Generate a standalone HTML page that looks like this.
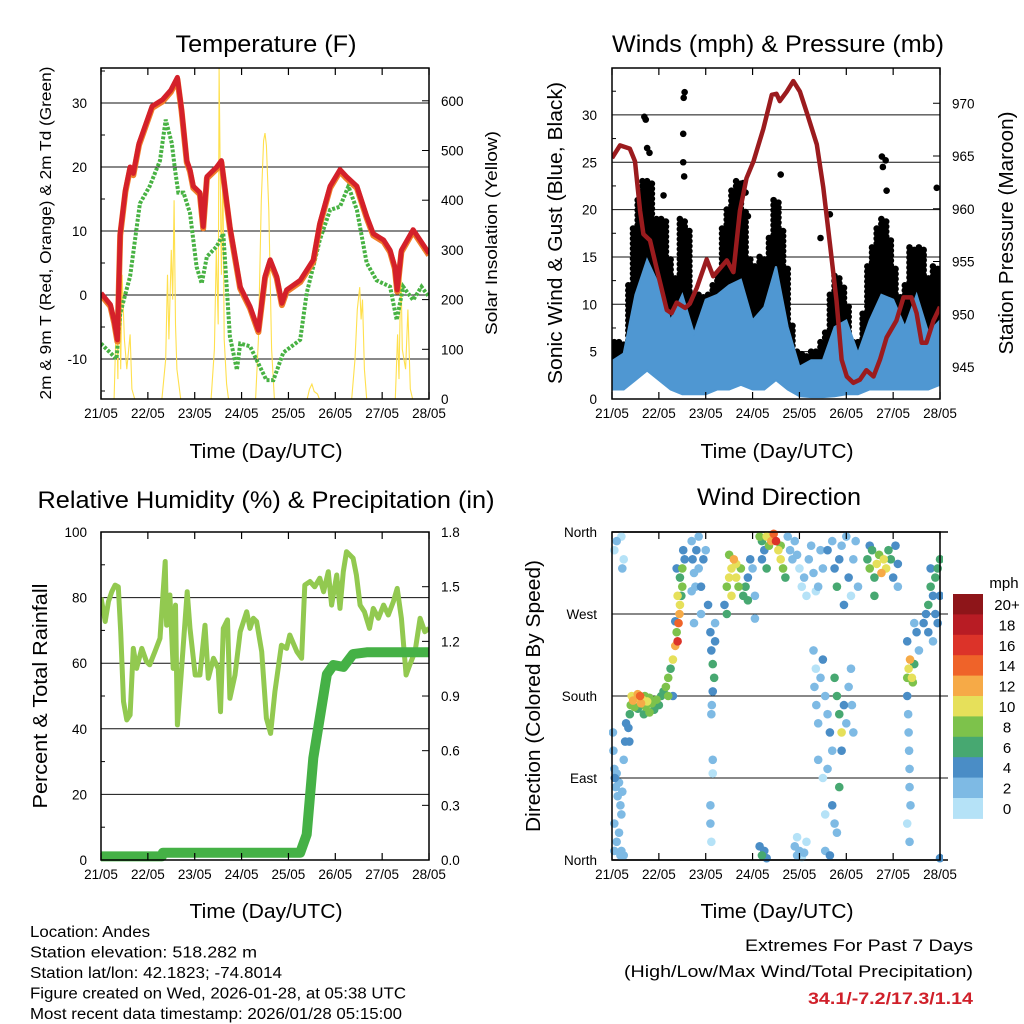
<!DOCTYPE html>
<html><head><meta charset="utf-8"><title>Weather station charts</title>
<style>
html,body{margin:0;padding:0;background:#fff;}
svg{display:block;font-family:"Liberation Sans",sans-serif;}
</style></head>
<body>
<svg id="fig" width="1024" height="1024" viewBox="0 0 1024 1024" xmlns="http://www.w3.org/2000/svg">
<rect x="0" y="0" width="1024" height="1024" fill="#fff"/>
</svg>
<script>
// ---------- DATA ----------
const dayLabels = ["21/05","22/05","23/05","24/05","25/05","26/05","27/05","28/05"];
const tempTicks = [-10,0,10,20,30];
const solarTicks = [0,100,200,300,400,500,600];
const windTicks = [0,5,10,15,20,25,30];
const presTicks = [945,950,955,960,965,970];
const rhTicks = [0,20,40,60,80,100];
const rainTicks = [0.0,0.3,0.6,0.9,1.2,1.5,1.8];
const dirTicks = ["North","East","South","West","North"];
const speedBins = ["0","2","4","6","8","10","12","14","16","18","20+"];
const speedColors = ["#b5e2f7","#7ebae4","#4a8dc6","#47a871","#7dc24b","#e6e05a","#f6aa47","#ef6329","#dc3329","#b81c24","#8e1519"];

const tDays = [0,0.2,0.28,0.35,0.41,0.52,0.62,0.69,0.81,1.09,1.31,1.49,1.63,1.72,1.83,1.9,1.97,2.11,2.18,2.26,2.47,2.57,2.75,2.97,3.18,3.36,3.5,3.61,3.75,3.86,3.96,4.25,4.53,4.67,4.89,5.1,5.24,5.46,5.67,5.81,6.03,6.17,6.27,6.32,6.41,6.66,6.81,7.0];
const tVals = [0.3,-1.5,-4,-7,9.6,16.4,20,19,23.7,29.5,30.5,32,34,29,21,19.6,17,16,10.7,18.5,20,21,10.7,1.3,-1.8,-5.5,2.9,5.5,2.9,-1.3,0.8,2.3,5.5,11.2,17,19.6,18.5,17,12.3,9.6,8.6,7,4.4,0.8,7,10.2,8.6,6.5];
const tdDays = [0,0.33,0.41,0.62,0.83,1.04,1.26,1.38,1.51,1.58,1.65,1.76,1.9,2.04,2.15,2.26,2.47,2.61,2.75,2.9,2.97,3.18,3.53,3.68,3.89,4.25,4.39,4.67,4.89,5.1,5.28,5.46,5.67,5.88,6.17,6.31,6.45,6.66,6.84,7.0];
const tdVals = [-7.6,-10,-2.9,2.9,14.3,17,21,27.4,23.7,19.6,16,16,12.8,4.4,1.8,6,7.6,9.6,-6.5,-11.7,-7.6,-8,-13.3,-13.3,-9,-7,0.3,8.6,13.3,13.8,17,13.3,5,2.3,1.3,-3.9,1.3,-0.8,1.3,-0.3];
const solarDays = [0,0.28,0.33,0.36,0.38,0.42,0.45,0.5,0.55,0.62,0.66,0.72,1.3,1.38,1.42,1.45,1.5,1.53,1.56,1.59,1.62,1.7,2.35,2.42,2.46,2.5,2.52,2.55,2.57,2.6,2.63,2.68,2.72,3.3,3.36,3.42,3.47,3.5,3.53,3.58,3.64,3.7,4.4,4.45,4.5,4.55,4.62,4.66,5.35,5.42,5.47,5.52,5.55,5.58,5.62,5.67,6.28,6.33,6.36,6.4,6.43,6.5,6.55,6.6,6.65,7.0];
const solarVals = [0,0,180,40,306,60,250,120,60,130,20,0,0,80,250,120,300,200,400,150,60,0,0,100,300,150,666,400,250,480,120,30,0,0,120,400,520,535,510,380,100,0,0,20,30,15,10,0,0,80,180,225,160,200,60,0,0,130,40,270,100,60,180,20,0,0];

const wDays = [0,0.25,0.5,0.75,1,1.25,1.5,1.75,2,2.25,2.5,2.75,3,3.25,3.5,3.75,4,4.25,4.5,4.75,5,5.25,5.5,5.75,6,6.25,6.5,6.75,7];
const windHi = [4,4.8,11,14.7,12,8.3,11,6.9,10.5,11,12,12.6,8.3,9.7,14,7.6,3.4,4.1,4.1,7.6,8.3,4.8,8.3,11,10.5,7.6,11,7,8.3];
const windLo = [1,1,2,3,2,1,0.5,0.5,0.5,1,1,1.5,1,1,2,1,0.3,0.2,0.2,0.3,0.5,0.5,1,1,1,1,1,1,1.5];
const gustHi = [5.5,6,6,5.5,12,18,21,23,23,19,19,19,15,13,12,19,18,10,11,11,10,11,12,13,18,20,22,23,20,15,12,14,15,13,17,21,18,14,8,5,5,4.5,4.5,5,5,6,7,11,13,12,10,6,6,6,9,14,16,18,19,17,14,11,9,12,16,15,16,13,12,14,12];
const gustLo = [2,2.5,3,3,4,7,8,9,9,8,7,7,5,4,5,6,5,3,2,3,3,4,5,6,8,8,9,9,8,7,5,4,5,6,7,9,8,6,3,2,2,1.5,1.5,2,2,2,2,3,3,3,3,3,2,2,3,4,5,6,6,6,5,4,3,4,5,6,6,5,4,5,5];
const gustOutDays = [0.69,0.72,0.75,0.8,1.52,1.53,1.55,1.52,1.54,1.1,2.8,2.85,2.9,3.6,4.65,5.78,5.76,5.84,5.86,6.93,4.45];
const gustOutVals = [29.8,29.5,26.5,26,28,31.8,32.4,25,23.5,21.5,22.8,21.8,19.3,23.7,19.5,24.5,25.6,25.2,22,22.3,17];
const presDays = [0,0.17,0.38,0.49,0.6,0.67,0.81,0.95,1.17,1.27,1.38,1.56,1.66,1.81,2.02,2.16,2.45,2.59,2.73,2.87,3.02,3.23,3.41,3.51,3.58,3.73,3.87,4.01,4.15,4.37,4.51,4.65,4.79,4.9,5.01,5.15,5.29,5.43,5.58,5.72,5.86,6.07,6.22,6.39,6.5,6.61,6.71,6.86,7.0];
const presVals = [964.8,966,965.7,964.5,959.8,957.6,957,954.4,950.4,950.1,951.1,950.6,951,952.5,955.2,953.6,955.1,954,959.8,962.9,964.5,967.6,970.8,970.9,970.2,971.1,972.1,971.1,969.2,966.1,962,956.7,951.3,945.7,944.1,943.5,943.8,944.7,944.1,945.7,947.8,949.4,951.6,951.6,950.1,947.3,947.3,949.4,950.7];

const rhDays = [0,0.09,0.16,0.23,0.3,0.37,0.42,0.48,0.55,0.62,0.69,0.76,0.87,0.97,1.04,1.15,1.26,1.37,1.4,1.47,1.54,1.59,1.63,1.72,1.84,1.9,2.01,2.11,2.22,2.29,2.4,2.5,2.55,2.61,2.7,2.75,2.86,2.97,3.11,3.18,3.25,3.32,3.43,3.53,3.62,3.71,3.85,3.96,4.03,4.18,4.28,4.35,4.46,4.56,4.67,4.75,4.85,4.92,5.03,5.1,5.17,5.24,5.38,5.45,5.53,5.62,5.73,5.81,5.92,6.03,6.13,6.24,6.32,6.41,6.51,6.59,6.7,6.81,6.91,7.0];
const rhVals = [80,72.7,78.8,81.8,83.8,83.3,69.6,48.3,42.7,44.2,64.5,58.4,64.5,60.5,59.5,63.5,67.6,91,71.6,80.8,58.4,77.7,41.2,58.4,81.8,70.6,56.4,56.4,71.6,55.4,61.5,58.4,45.2,70.6,73.2,49.3,56.4,69.6,75.7,70.6,73.7,72.7,63.5,43.2,38.6,51.3,65.5,64.5,68.6,63.5,61.5,83.8,84.9,83.3,85.9,81.8,87.9,77.7,86.9,76.7,87.9,94,92,86.9,77.7,75.7,70.6,76.7,73.7,77.7,74.7,78.8,82.8,73.7,56.4,59.5,63.5,73.7,69.6,70.6];
const rainDays = [0,1.3,1.32,4.25,4.39,4.53,4.67,4.82,4.96,5.17,5.38,5.67,6.39,7.0];
const rainVals = [0.02,0.02,0.04,0.04,0.14,0.56,0.78,1.02,1.07,1.06,1.13,1.14,1.14,1.14];

const wdDays = [0.02,0.03,0.05,0.06,0.08,0.1,0.12,0.15,0.18,0.2,0.22,0.25,0.28,0.3,0.05,0.1,0.15,0.2,0.25,0.05,0.18,0.1,0.2,0.25,0.22,0.05,
0.38,0.4,0.42,0.45,0.5,0.55,0.6,0.62,0.65,0.7,0.72,0.75,0.8,0.85,0.9,0.95,1.0,1.05,0.48,0.55,0.68,0.8,0.35,0.37,
1.1,1.15,1.2,1.25,1.3,1.35,1.38,1.4,1.42,1.44,1.45,1.48,1.5,1.45,1.5,1.52,1.55,1.4,1.38,1.3,1.2,1.35,
1.7,1.72,1.75,1.78,1.8,1.85,1.9,1.95,2.0,1.85,1.75,1.9,2.05,1.7,
2.1,2.12,2.15,2.18,2.15,2.13,2.12,2.2,2.15,2.15,2.1,2.1,2.12,2.2,
2.4,2.45,2.5,2.55,2.6,2.65,2.7,2.75,2.8,2.85,2.9,2.95,3.0,3.05,2.45,2.55,2.65,2.5,2.9,3.05,
3.15,3.2,3.25,3.3,3.35,3.4,3.45,3.5,3.55,3.6,3.65,3.7,3.6,3.75,3.8,3.85,3.2,3.3,
3.15,3.2,3.25,3.3,
3.9,3.95,4.0,4.05,4.1,4.15,4.2,4.25,4.3,4.35,4.4,4.45,4.5,
3.9,3.95,4.0,4.05,4.1,4.15,3.95,
4.3,4.35,4.32,4.36,4.4,4.45,4.5,4.55,4.6,4.65,4.7,4.75,4.8,4.85,4.9,4.9,4.95,5.0,5.05,5.1,5.12,5.15,4.6,4.7,4.75,4.8,4.85,4.55,4.65,4.5,4.55,4.4,
4.6,4.7,4.75,4.8,4.85,4.9,5.0,5.05,5.1,5.15,5.2,5.25,4.95,
5.45,5.5,5.55,5.6,5.65,5.7,5.75,5.8,5.85,5.9,5.95,6.0,6.05,6.1,5.5,6.1,5.6,
6.3,6.33,6.36,6.4,6.42,6.45,6.3,6.32,6.33,6.34,6.35,6.35,6.37,6.3,6.35,6.3,6.5,6.55,6.45,
6.65,6.7,6.75,6.8,6.85,6.9,6.95,7.0,6.75,6.85,6.95,7.0,6.8,6.9,7.0];
const wdDirs = [140,120,100,90,80,95,70,85,60,50,75,110,130,150,40,20,30,10,5,10,5,350,355,330,320,340,
160,170,180,175,178,182,180,172,176,180,168,174,178,172,165,176,170,180,168,166,160,162,145,130,
185,190,200,210,220,235,250,240,260,270,280,290,300,310,320,340,330,290,320,180,180,262,
350,330,315,300,340,320,300,330,340,355,260,270,280,295,
250,230,215,200,185,170,160,240,110,95,60,40,20,260,
280,300,310,320,330,310,300,320,290,300,310,330,320,290,270,290,325,335,285,265,
355,350,340,355,345,350,358,350,340,330,320,310,345,355,340,330,330,320,
15,5,10,2,
350,335,320,300,310,290,330,345,315,295,300,340,320,
15,5,10,3,8,20,25,
230,210,190,170,150,200,220,180,160,140,120,200,180,160,140,120,170,150,190,210,170,140,100,60,40,30,80,10,5,90,50,110,
340,350,320,300,330,345,355,310,290,330,350,300,280,
330,320,340,310,325,335,315,330,320,340,330,310,345,300,345,325,290,
200,210,220,200,195,215,180,160,140,120,100,80,60,40,20,240,250,230,260,
260,270,280,300,290,310,320,290,250,240,260,330,320,270,2];
const wdSpeeds = [3,2,3,4,3,2,3,3,2,3,2,3,4,4,2,3,2,2,3,2,3,2,1,1,2,1,
6,8,10,12,11,12,14,13,10,9,8,10,8,9,7,8,6,7,8,7,6,8,5,5,
6,8,9,7,10,12,9,16,14,12,10,7,8,6,9,5,4,10,4,5,8,5,
3,4,3,2,4,3,4,5,3,2,2,3,4,2,
4,5,6,6,4,3,3,5,2,1,3,3,1,3,
5,8,10,11,12,10,8,9,7,6,5,4,3,3,6,10,11,9,6,3,
8,7,5,10,9,12,14,16,10,11,8,7,9,3,3,2,4,6,
4,6,4,5,
2,3,1,1,3,1,2,2,3,1,2,3,2,
3,2,2,1,2,1,1,
2,1,3,2,3,2,4,3,2,4,3,6,6,7,10,4,5,3,2,3,2,3,2,4,3,3,6,2,4,1,1,2,
4,3,4,6,4,3,3,4,1,3,2,3,5,
6,8,7,6,10,8,12,10,11,7,6,4,4,3,4,5,7,
8,10,12,10,8,7,4,3,3,2,3,2,3,1,3,5,4,3,3,
4,5,6,6,5,7,6,4,4,3,4,7,5,4,4];

// ---------- HELPERS ----------
const NS = "http://www.w3.org/2000/svg";
const svg = document.getElementById("fig");
function mk(tag, attrs, parent) {
  const e = document.createElementNS(NS, tag);
  for (const k in attrs) e.setAttribute(k, attrs[k]);
  (parent || svg).appendChild(e);
  return e;
}
function txt(s, x, y, size, anchor, parent, extra) {
  const t = mk("text", Object.assign({x: x, y: y, "font-size": size, "text-anchor": anchor || "start", fill: "#000"}, extra || {}), parent);
  t.textContent = s;
  return t;
}
function group(name) {
  const g = mk("g", {});
  
  
  return g;
}
const PX_DAY = 46.86;
function xL(d) { return 101 + d * PX_DAY; }
function xR(d) { return 612 + d * PX_DAY; }
function yTemp(v) { return 295 - v * 6.4; }
function ySolar(v) { return 399 - v * 0.497; }
function yWind(v) { return 399 - v * 9.47; }
function yPres(p) { return 367 - (p - 945) * 10.55; }
function yRH(v) { return 860 - v * 3.28; }
function yRain(v) { return 860 - v * 182.2; }
function yDir(v) { return 860 - v * 328 / 360; }
function pathFrom(days, vals, xf, yf) {
  let d = "";
  for (let i = 0; i < days.length; i++) d += (i ? "L" : "M") + xf(days[i]).toFixed(1) + "," + yf(vals[i]).toFixed(1);
  return d;
}
function frame(g, x0, y0, x1, y1, xf) {
  for (let i = 0; i < dayLabels.length; i++) {
    const x = xf(i);
    mk("line", {x1: x, y1: y0, x2: x, y2: y0 + 7, stroke: "#000", "stroke-width": 1.2}, g);
    mk("line", {x1: x, y1: y1, x2: x, y2: y1 - 7, stroke: "#000", "stroke-width": 1.2}, g);
    const t = txt(dayLabels[i], x, y1 + 19, 13.5, "middle", g);
    
    
  }
  const r = mk("rect", {x: x0, y: y0, width: x1 - x0, height: y1 - y0, fill: "none", stroke: "#000", "stroke-width": 1.5}, g);
  
  
}

// ---------- PANEL 1: TEMPERATURE ----------
(function(){
  const g = group("temperature-panel");
  tempTicks.forEach(function(v){
    const y = yTemp(v);
    mk("line", {x1: 101, y1: y, x2: 429, y2: y, stroke: "#111", "stroke-width": 1}, g);
    const t = txt(String(v), 87, y + 5, 13.5, "end", g);
    
    
    const ym = yTemp(v + 5);
    if (ym > 68) mk("line", {x1: 101, y1: ym, x2: 105, y2: ym, stroke: "#000"}, g);
  });
  mk("line", {x1: 101, y1: yTemp(-15), x2: 105, y2: yTemp(-15), stroke: "#000"}, g);
  solarTicks.forEach(function(v){
    const y = ySolar(v);
    mk("line", {x1: 422, y1: y, x2: 429, y2: y, stroke: "#000"}, g);
    const t = txt(String(v), 441, y + 5, 13.5, "start", g);
    
    
  });
  const clip = mk("clipPath", {id: "c1"}, g);
  mk("rect", {x: 101, y: 68, width: 328, height: 331}, clip);
  const sol = mk("path", {d: pathFrom(solarDays, solarVals, xL, ySolar), fill: "none", stroke: "#ffe04d", "stroke-width": 1.1, "clip-path": "url(#c1)"}, g);
  
  
  const td = mk("path", {d: pathFrom(tdDays, tdVals, xL, yTemp), fill: "none", stroke: "#48b243", "stroke-width": 4, "stroke-dasharray": "3 1.6", "clip-path": "url(#c1)"}, g);
  
  
  const t9 = mk("path", {d: pathFrom(tDays, tVals, xL, yTemp), fill: "none", stroke: "#f07d2a", "stroke-width": 6, transform: "translate(0,1.8)", "stroke-linejoin": "round", "clip-path": "url(#c1)"}, g);
  
  
  const t2 = mk("path", {d: pathFrom(tDays, tVals, xL, yTemp), fill: "none", stroke: "#d4202a", "stroke-width": 5, "stroke-linejoin": "round", "clip-path": "url(#c1)"}, g);
  
  
  frame(g, 101, 68, 429, 399, xL);
  const ti = txt("Temperature (F)", 266, 52, 24, "middle", g, {textLength: 181, lengthAdjust: "spacingAndGlyphs"});
  
  
  const xl = txt("Time (Day/UTC)", 266, 458, 20, "middle", g, {textLength: 153, lengthAdjust: "spacingAndGlyphs"});
  
  
  const yl = txt("2m & 9m T (Red, Orange) & 2m Td (Green)", 0, 0, 16, "middle", g, {transform: "translate(51,233) rotate(-90)", textLength: 333, lengthAdjust: "spacingAndGlyphs"});
  
  
  const yr = txt("Solar Insolation (Yellow)", 0, 0, 17, "middle", g, {transform: "translate(497,233) rotate(-90)", textLength: 204, lengthAdjust: "spacingAndGlyphs"});
  
  
})();

// ---------- PANEL 2: WINDS & PRESSURE ----------
(function(){
  const g = group("winds-pressure-panel");
  windTicks.forEach(function(v){
    const y = yWind(v);
    mk("line", {x1: 612, y1: y, x2: 940, y2: y, stroke: "#111", "stroke-width": 1}, g);
    const t = txt(String(v), 597, y + 5, 13.5, "end", g);
    
    
    const ym = yWind(v + 2.5);
    if (ym > 68) mk("line", {x1: 612, y1: ym, x2: 616, y2: ym, stroke: "#000"}, g);
  });
  presTicks.forEach(function(v){
    const y = yPres(v);
    mk("line", {x1: 933, y1: y, x2: 940, y2: y, stroke: "#000"}, g);
    const t = txt(String(v), 952, y + 5, 13.5, "start", g);
    
    
  });
  const clip = mk("clipPath", {id: "c2"}, g);
  mk("rect", {x: 612, y: 68, width: 328, height: 331}, clip);
  const gg = mk("g", {"clip-path": "url(#c2)"}, g);
  
  
  for (let i = 0; i < gustHi.length; i++) {
    const d = i * 0.1;
    const yTop = yWind(gustHi[i]), yBot = yWind(gustLo[i]);
    for (let k = 0; k < 2; k++) {
      const ox = k ? 2.4 : -2.4;
      for (let y = yTop + k * 2.5; y <= yBot; y += 5) {
        const c = mk("circle", {cx: xR(d) + ox, cy: y, r: 3.3, fill: "#000"}, gg);
        
        
      }
    }
  }
  for (let i = 0; i < gustOutDays.length; i++) {
    const c = mk("circle", {cx: xR(gustOutDays[i]), cy: yWind(gustOutVals[i]), r: 3.3, fill: "#000"}, gg);
    
    
  }
  let d = "";
  for (let i = 0; i < wDays.length; i++) d += (i ? "L" : "M") + xR(wDays[i]).toFixed(1) + "," + yWind(windHi[i]).toFixed(1);
  for (let i = wDays.length - 1; i >= 0; i--) d += "L" + xR(wDays[i]).toFixed(1) + "," + yWind(windLo[i]).toFixed(1);
  const band = mk("path", {d: d + "Z", fill: "#4f97d2", stroke: "#4f97d2", "stroke-width": 2, "clip-path": "url(#c2)"}, g);
  
  
  const pr = mk("path", {d: pathFrom(presDays, presVals, xR, yPres), fill: "none", stroke: "#9b1b1e", "stroke-width": 4.5, "stroke-linejoin": "round", "clip-path": "url(#c2)"}, g);
  
  
  frame(g, 612, 68, 940, 399, xR);
  const ti = txt("Winds (mph) & Pressure (mb)", 778, 52, 24, "middle", g, {textLength: 332, lengthAdjust: "spacingAndGlyphs"});
  
  
  const xl = txt("Time (Day/UTC)", 777, 458, 20, "middle", g, {textLength: 153, lengthAdjust: "spacingAndGlyphs"});
  
  
  const yl = txt("Sonic Wind & Gust (Blue, Black)", 0, 0, 20, "middle", g, {transform: "translate(562,233) rotate(-90)", textLength: 302, lengthAdjust: "spacingAndGlyphs"});
  
  
  const yr = txt("Station Pressure (Maroon)", 0, 0, 20, "middle", g, {transform: "translate(1013,233) rotate(-90)", textLength: 243, lengthAdjust: "spacingAndGlyphs"});
  
  
})();

// ---------- PANEL 3: RH & PRECIP ----------
(function(){
  const g = group("humidity-precip-panel");
  rhTicks.forEach(function(v){
    const y = yRH(v);
    if (v > 0 && v < 100) mk("line", {x1: 101, y1: y, x2: 429, y2: y, stroke: "#111", "stroke-width": 1}, g);
    const t = txt(String(v), 87, y + 5, 13.5, "end", g);
    
    
    const ym = yRH(v + 10);
    if (ym > 532) mk("line", {x1: 101, y1: ym, x2: 105, y2: ym, stroke: "#000"}, g);
  });
  rainTicks.forEach(function(v){
    const y = yRain(v);
    mk("line", {x1: 422, y1: y, x2: 429, y2: y, stroke: "#000"}, g);
    const t = txt(v.toFixed(1), 441, y + 5, 13.5, "start", g);
    
    
  });
  const clip = mk("clipPath", {id: "c3"}, g);
  mk("rect", {x: 101, y: 532, width: 328, height: 328}, clip);
  const rh = mk("path", {d: pathFrom(rhDays, rhVals, xL, yRH), fill: "none", stroke: "#92c950", "stroke-width": 5, "stroke-linejoin": "round", "clip-path": "url(#c3)"}, g);
  
  
  const rn = mk("path", {d: pathFrom(rainDays, rainVals, xL, yRain), fill: "none", stroke: "#45b146", "stroke-width": 10, "stroke-linejoin": "round"}, g);
  
  
  frame(g, 101, 532, 429, 860, xL);
  const ti = txt("Relative Humidity (%) & Precipitation (in)", 266, 508, 24, "middle", g, {textLength: 457, lengthAdjust: "spacingAndGlyphs"});
  
  
  const xl = txt("Time (Day/UTC)", 266, 918, 20, "middle", g, {textLength: 153, lengthAdjust: "spacingAndGlyphs"});
  
  
  const yl = txt("Percent & Total Rainfall", 0, 0, 20, "middle", g, {transform: "translate(47,696) rotate(-90)", textLength: 225, lengthAdjust: "spacingAndGlyphs"});
  
  
})();

// ---------- PANEL 4: WIND DIRECTION ----------
(function(){
  const g = group("wind-direction-panel");
  for (let i = 0; i < dirTicks.length; i++) {
    const y = yDir(i * 90);
    if (i > 0 && i < 4) mk("line", {x1: 612, y1: y, x2: 948, y2: y, stroke: "#111", "stroke-width": 1}, g);
    else mk("line", {x1: 612, y1: y, x2: 948, y2: y, stroke: "#000", "stroke-width": 1.5}, g);
    const t = txt(dirTicks[i], 597, y + 5, 13.5, "end", g);
    
    
  }
  const clip = mk("clipPath", {id: "c4"}, g);
  mk("rect", {x: 609, y: 529, width: 334, height: 334}, clip);
  const pg = mk("g", {"clip-path": "url(#c4)"}, g);
  
  
  const order = wdDays.map(function(_, i){ return i; }).sort(function(a, b){ return wdSpeeds[a] - wdSpeeds[b]; });
  order.forEach(function(i){
    const bin = Math.min(10, Math.floor(wdSpeeds[i] / 2));
    const c = mk("circle", {cx: xR(wdDays[i]), cy: yDir(wdDirs[i]), r: 4.3, fill: speedColors[bin]}, pg);
    
    
  });
  frame(g, 612, 532, 940, 860, xR);
  const ti = txt("Wind Direction", 779, 505, 24, "middle", g, {textLength: 164, lengthAdjust: "spacingAndGlyphs"});
  
  
  const xl = txt("Time (Day/UTC)", 777, 918, 20, "middle", g, {textLength: 153, lengthAdjust: "spacingAndGlyphs"});
  
  
  const yl = txt("Direction (Colored By Speed)", 0, 0, 20, "middle", g, {transform: "translate(540,696) rotate(-90)", textLength: 272, lengthAdjust: "spacingAndGlyphs"});
  
  
  const cb = group("speed-colorbar");
  const u = txt("mph", 1004, 588, 15, "middle", cb);
  
  
  for (let k = 0; k < speedBins.length; k++) {
    const idx = speedBins.length - 1 - k;
    const y = 594 + k * 20.4;
    const r = mk("rect", {x: 953, y: y, width: 30, height: 20.9, fill: speedColors[idx]}, cb);
    
    
    const t = txt(speedBins[idx], 1007, y + 16, 15, "middle", cb);
    
    
  }
})();

// ---------- FOOTER ----------
(function(){
  const g = group("station-info");
  const lines = ["Location: Andes","Station elevation: 518.282 m","Station lat/lon: 42.1823; -74.8014","Figure created on Wed, 2026-01-28, at 05:38 UTC","Most recent data timestamp: 2026/01/28 05:15:00"];
  const widths = [120,227,252,376,372];
  for (let i = 0; i < lines.length; i++) {
    const t = txt(lines[i], 30, 937 + i * 20.5, 15.5, "start", g, {textLength: widths[i], lengthAdjust: "spacingAndGlyphs"});
    
    
  }
  const g2 = group("extremes-summary");
  const a = txt("Extremes For Past 7 Days", 973, 951, 17, "end", g2, {textLength: 228, lengthAdjust: "spacingAndGlyphs"});
  
  
  const b = txt("(High/Low/Max Wind/Total Precipitation)", 973, 977, 17, "end", g2, {textLength: 349, lengthAdjust: "spacingAndGlyphs"});
  
  
  const c = txt("34.1/-7.2/17.3/1.14", 973, 1004, 17, "end", g2, {fill: "#d0202a", "font-weight": "bold", textLength: 165, lengthAdjust: "spacingAndGlyphs"});
  
  
})();
</script>
</body></html>
